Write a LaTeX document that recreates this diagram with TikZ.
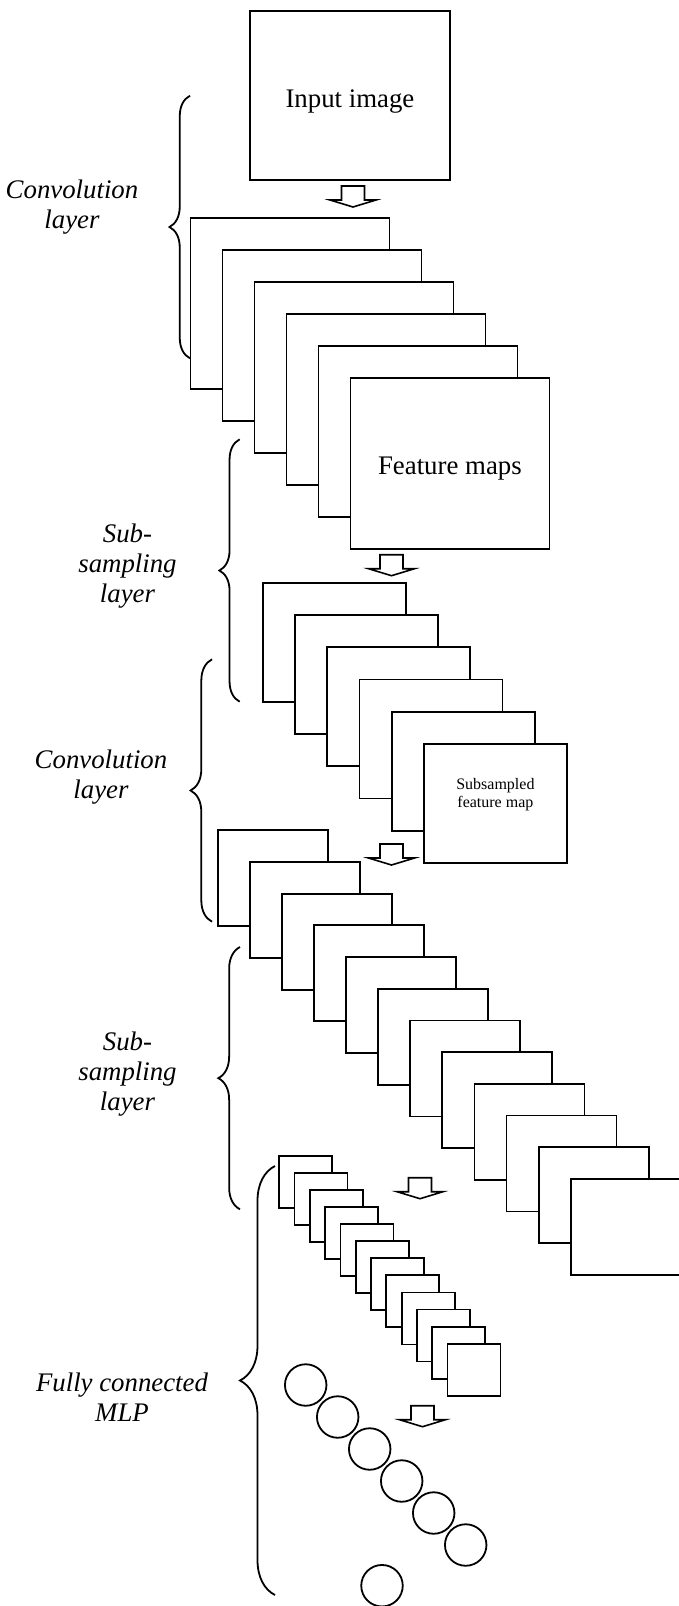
\documentclass[tikz,border=0pt]{standalone}
\usepackage{fontspec}
\setmainfont{Liberation Serif}
\usepackage{tikz}
\usetikzlibrary{positioning, calc, decorations.pathreplacing}

\begin{document}
\begin{tikzpicture}[
		x=1pt, y=-1pt,
		line width=1.8pt,
		mapBox/.style={rectangle, draw=black, fill=white, anchor=north west, inner sep=0pt},
		bigMap/.style={mapBox, minimum width=199pt, minimum height=171pt},
		subMap/.style={mapBox, minimum width=143pt, minimum height=119pt},
		convMap/.style={mapBox, minimum width=110pt, minimum height=96pt},
		smallMap/.style={mapBox, minimum width=53pt, minimum height=52pt},
		neuron/.style={circle, draw=black, fill=white, minimum size=41.5pt, inner sep=0pt},
		bigText/.style={font=\fontsize{26.8}{30}\selectfont},
		layerLabel/.style={font=\fontsize{26.8}{30}\selectfont\itshape, align=center},
		layerBrace/.style={decorate, decoration={brace, amplitude=#1}},
		blockArrow/.pic={\draw[line width=1.6pt, fill=white, line join=miter] (-11.5,0) -- (11.5,0) -- (11.5,14) -- (23,14) -- (0,21) -- (-23,14) -- (-11.5,14) -- cycle;}
		]
		\useasboundingbox (0,0) rectangle (678,1606);

		% Input and first convolution
		\node[mapBox, minimum width=200pt, minimum height=169pt] (input) at (249,10) {};
		\node[bigText, yshift=-6pt] (inputText) at (input) {Input image};
		\pic at (353,186) {blockArrow};
		\foreach \i in {0,...,5}
			\node[bigMap] (fmap\i) at ({189.5+32*\i},{217+32*\i}) {};
		\node[bigText, yshift=-5pt] (fmapText) at (fmap5) {Feature maps};

		% First subsampling
		\pic at (391.5,554.7) {blockArrow};
		\foreach \i in {0,...,5}
			\node[subMap] (sub\i) at ({262+32.2*\i},{582+32.2*\i}) {};
		\node[font=\fontsize{16}{18.7}\selectfont, align=center, anchor=north, inner sep=0pt, below=34pt of sub5.north] (subText) {Subsampled\\feature map};

		% Second convolution
		\pic at (391.5,844) {blockArrow};
		\foreach \i in {0,...,11}
			\node[convMap] (conv\i) at ({216.7+32.1*\i},{829.3+31.7*\i}) {};

		% Second subsampling
		\pic at (420,1177.7) {blockArrow};
		\foreach \i in {0,...,11}
			\node[smallMap] (small\i) at ({278.3+15.3*\i},{1154.7+17.1*\i}) {};

		% MLP
		\pic at (422.5,1405.7) {blockArrow};
		\foreach \i in {0,...,5}
			\node[neuron] (unit\i) at ({305.7+32*\i},{1385+32*\i}) {};
		\node[neuron] (output) at (382,1585.7) {};

		% Braces and labels
		\draw[layerBrace=20.5pt] (190,358.3) -- (190,95.7);
		\draw[layerBrace=20.3pt] (239.7,701.7) -- (239.7,439.3);
		\draw[layerBrace=21.4pt] (212,921.7) -- (212,659.3);
		\draw[layerBrace=21.7pt] (240,1209.3) -- (240,947);
		\draw[layerBrace=35pt] (275,1595) -- (275,1166);
		\node[layerLabel] (convLabel1) at (72,207) {Convolution\\layer};
		\node[layerLabel] (subLabel1) at (127.5,566) {Sub-\\sampling\\layer};
		\node[layerLabel] (convLabel2) at (101,777) {Convolution\\layer};
		\node[layerLabel] (subLabel2) at (127.5,1074) {Sub-\\sampling\\layer};
		\node[layerLabel] (mlpLabel) at (122,1397) {Fully connected\\MLP};

	\end{tikzpicture}
\end{document}
